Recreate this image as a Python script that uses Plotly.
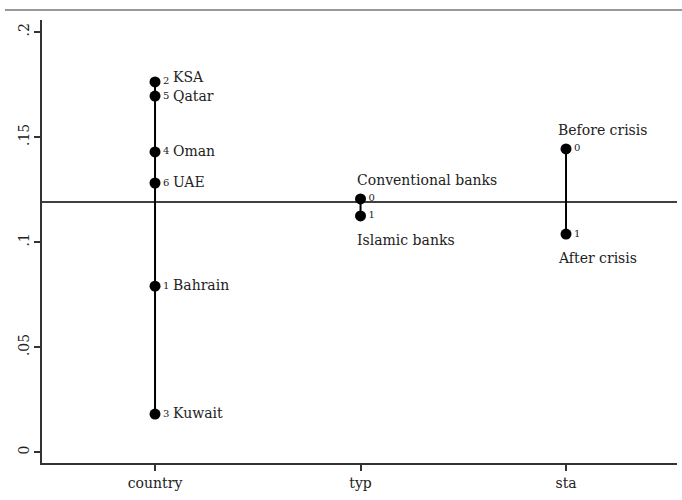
import plotly.graph_objects as go

# Group means of the outcome by category, plus the grand mean
groups = ["country", "typ", "sta"]

country_names = ["KSA", "Qatar", "Oman", "UAE", "Bahrain", "Kuwait"]
country_codes = ["2", "5", "4", "6", "1", "3"]
country_means = [0.1762, 0.1695, 0.1429, 0.1281, 0.0790, 0.0181]

typ_names = ["Conventional banks", "Islamic banks"]
typ_codes = ["0", "1"]
typ_means = [0.1205, 0.1124]

sta_names = ["Before crisis", "After crisis"]
sta_codes = ["0", "1"]
sta_means = [0.1443, 0.1038]

grand_mean = 0.1190

y_ticks = [0, 0.05, 0.1, 0.15, 0.2]
y_tick_text = ["0", ".05", ".1", ".15", ".2"]

FONT = "DejaVu Serif"
INK = "#222222"

fig = go.Figure()

group_data = [
    (groups[0], country_means, country_codes),
    (groups[1], typ_means, typ_codes),
    (groups[2], sta_means, sta_codes),
]

# Range spine for each group
for g, vals, codes in group_data:
    fig.add_trace(go.Scatter(
        x=[g, g], y=[min(vals), max(vals)], mode="lines",
        line=dict(color="black", width=2), hoverinfo="skip", showlegend=False,
    ))

# Grand mean reference line
fig.add_hline(y=grand_mean, line=dict(color="black", width=1.5), layer="below")

# Group means with their numeric codes
for g, vals, codes in group_data:
    fig.add_trace(go.Scatter(
        x=[g] * len(vals), y=vals, mode="markers+text",
        marker=dict(color="black", size=11),
        text=codes, textposition="middle right",
        textfont=dict(family=FONT, size=10, color=INK),
        showlegend=False,
    ))

# Small vertical nudges so the two top names do not collide
name_shift = [4, -1, 0, 0, 0, 0]

annotations = []
# Country names beside their markers
for name, v, dy in zip(country_names, country_means, name_shift):
    annotations.append(dict(
        x="country", y=v, text=name, showarrow=False, xanchor="left",
        yanchor="middle", xshift=16, yshift=1 + dy,
        font=dict(family=FONT, size=14, color=INK),
    ))
# Bank type labels above/below
annotations.append(dict(x="typ", y=typ_means[0], text=typ_names[0], showarrow=False,
                        xanchor="left", yanchor="bottom", xshift=-6, yshift=9,
                        font=dict(family=FONT, size=14, color=INK)))
annotations.append(dict(x="typ", y=typ_means[1], text=typ_names[1], showarrow=False,
                        xanchor="left", yanchor="top", xshift=-6, yshift=-14,
                        font=dict(family=FONT, size=14, color=INK)))
# Crisis period labels above/below
annotations.append(dict(x="sta", y=sta_means[0], text=sta_names[0], showarrow=False,
                        xanchor="left", yanchor="bottom", xshift=-10, yshift=9,
                        font=dict(family=FONT, size=14, color=INK)))
annotations.append(dict(x="sta", y=sta_means[1], text=sta_names[1], showarrow=False,
                        xanchor="left", yanchor="top", xshift=-10, yshift=-14,
                        font=dict(family=FONT, size=14, color=INK)))

# Outer frame (left and top edges)
shapes = [
    dict(type="line", xref="paper", yref="paper", x0=-0.0583, x1=-0.0583,
         y0=-0.1, y1=1.0226, line=dict(color="#888888", width=1.5)),
    dict(type="line", xref="paper", yref="paper", x0=-0.0583, x1=1.01,
         y0=1.0226, y1=1.0226, line=dict(color="#777777", width=1.5)),
]

fig.update_layout(
    width=682, height=500,
    margin=dict(l=42, r=5, t=20, b=37),
    plot_bgcolor="white", paper_bgcolor="white",
    font=dict(family=FONT, size=14, color=INK),
    annotations=annotations, shapes=shapes,
    xaxis=dict(
        type="category", categoryorder="array", categoryarray=groups,
        range=[-0.55, 2.54], showgrid=False, zeroline=False,
        showline=True, linecolor="#333333", linewidth=1.5,
        ticks="outside", ticklen=6, tickwidth=1.5, tickcolor="#333333",
        tickfont=dict(family=FONT, size=14, color=INK),
    ),
    yaxis=dict(
        range=[-0.0052, 0.2057], tickvals=y_ticks, ticktext=y_tick_text,
        tickangle=-90, showgrid=False, zeroline=False,
        showline=True, linecolor="#333333", linewidth=1.5,
        ticks="outside", ticklen=6, tickwidth=1.5, tickcolor="#333333",
        tickfont=dict(family=FONT, size=14, color=INK),
    ),
)

fig.write_html("out.html")
